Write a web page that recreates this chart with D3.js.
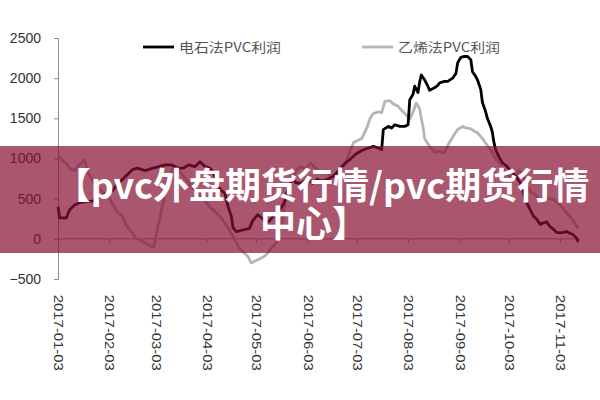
<!DOCTYPE html>
<html><head><meta charset="utf-8">
<script src="https://cdn.jsdelivr.net/npm/d3@7"></script>
<style>
html,body{margin:0;padding:0;background:#fff;}
svg{display:block;}
</style></head>
<body><svg id="c" width="600" height="400"></svg>
<script>
// ---- data ----
const seriesNames = ["电石法PVC利润", "乙烯法PVC利润"];
const tickLabels = ["2017-01-03","2017-02-03","2017-03-03","2017-04-03","2017-05-03","2017-06-03","2017-07-03","2017-08-03","2017-09-03","2017-10-03","2017-11-03"];
const yTicks = [-500, 0, 500, 1000, 1500, 2000, 2500];

const carbideDates = ["01-03","01-04","01-08","01-10","01-13","01-16","01-21","01-24","01-27","01-31","02-05","02-08","02-13","02-17","02-20","02-25","02-28","03-05","03-09","03-13","03-17","03-20","03-23","03-27","03-30","04-02","04-05","04-07","04-10","04-12","04-14","04-16","04-18","04-19","04-21","04-25","04-29","05-01","05-04","05-07","05-09","05-11","05-14","05-17","05-20","05-22","05-25","05-27","05-30","06-02","06-05","06-06","06-09","06-12","06-16","06-19","06-22","06-24","06-27","06-29","07-02","07-06","07-10","07-13","07-16","07-18","07-19","07-22","07-24","07-26","07-29","08-01","08-03","08-04","08-06","08-07","08-09","08-10","08-11","08-13","08-15","08-16","08-19","08-21","08-22","08-25","08-27","08-30","09-01","09-02","09-04","09-06","09-08","09-10","09-11","09-13","09-14","09-16","09-17","09-19","09-20","09-22","09-23","09-24","09-25","09-27","09-29","10-02","10-04","10-07","10-10","10-12","10-14","10-16","10-18","10-20","10-22","10-24","10-26","10-28","10-30","11-01","11-03","11-05","11-07","11-09","11-11","11-13","11-14"];
const carbideValues = [400,260,260,360,420,450,465,470,510,550,600,680,780,860,880,850,870,900,920,920,880,880,920,900,960,900,880,830,650,600,570,400,280,140,90,110,130,230,300,250,200,220,300,350,450,600,760,700,690,730,720,690,740,720,750,780,850,900,960,990,1050,1100,1130,1150,1130,1110,1360,1400,1380,1420,1400,1400,1420,1730,1800,1900,1820,1950,2040,1980,1900,1850,1880,1910,1940,1960,1960,2000,2060,2190,2260,2270,2270,2230,2080,2020,1980,1860,1700,1580,1500,1400,1330,1200,1110,1020,950,900,850,780,700,560,440,360,280,240,180,200,210,150,120,80,75,80,90,70,50,10,-40];

const ethyleneDates = ["01-03","01-05","01-08","01-10","01-13","01-15","01-18","01-19","01-21","01-24","01-26","01-29","01-31","02-03","02-05","02-08","02-11","02-13","02-16","02-19","02-22","02-25","02-28","03-02","03-04","03-06","03-08","03-09","03-11","03-13","03-15","03-18","03-20","03-23","03-25","03-28","03-30","04-02","04-05","04-08","04-11","04-14","04-17","04-20","04-23","04-26","04-28","04-30","05-02","05-04","05-07","05-09","05-11","05-13","05-15","05-17","05-19","05-20","05-22","05-25","05-27","05-30","06-02","06-05","06-08","06-11","06-14","06-17","06-20","06-23","06-26","06-29","07-01","07-04","07-06","07-09","07-11","07-13","07-16","07-18","07-20","07-23","07-25","07-28","07-30","08-02","08-04","08-06","08-08","08-10","08-11","08-12","08-13","08-15","08-17","08-19","08-22","08-25","08-28","08-31","09-02","09-05","09-07","09-10","09-12","09-14","09-17","09-19","09-22","09-25","09-28","10-01","10-04","10-07","10-09","10-11","10-14","10-16","10-19","10-22","10-24","10-27","10-30","11-02","11-05","11-07","11-10","11-12","11-14"];
const ethyleneValues = [1040,990,940,880,850,900,960,990,830,720,650,610,560,520,430,330,280,180,100,10,-20,-50,-90,-100,100,300,480,650,780,860,880,830,780,700,640,590,540,470,400,340,280,200,100,-10,-120,-180,-220,-300,-280,-260,-230,-200,-150,-100,-50,100,250,400,600,750,850,900,870,940,880,830,850,780,800,870,950,1100,1200,1230,1250,1380,1500,1560,1580,1570,1710,1720,1680,1650,1600,1540,1490,1580,1690,1620,1500,1400,1250,1180,1130,1080,1090,1070,1200,1300,1360,1400,1380,1370,1340,1320,1250,1190,1110,1000,920,820,770,740,850,820,660,590,550,470,520,500,490,440,380,320,260,190,130];

const bannerLines = ["【pvc外盘期货行情/pvc期货行情", "中心】"];

// ---- chart ----
const svg = d3.select("#c");
const parse = d3.timeParse("%Y-%m-%d");
const x = d3.scaleTime().domain([parse("2017-01-03"), parse("2017-11-03")]).range([58, 560]);
const y = d3.scaleLinear().domain([-500, 2500]).range([279, 38]);

const mk = (dates, vals) => dates.map((d, i) => ({ date: parse("2017-" + d), v: vals[i] }));
const carbide = mk(carbideDates, carbideValues);
const ethylene = mk(ethyleneDates, ethyleneValues);

// y axis
const yAxis = svg.append("g").attr("transform", "translate(58,0)")
  .call(d3.axisLeft(y).tickValues(yTicks).tickSize(4).tickPadding(13).tickFormat(d3.format("d")));
yAxis.select(".domain").attr("stroke", "#8c8c8c");
yAxis.selectAll(".tick line").attr("stroke", "#8c8c8c");
yAxis.selectAll("text").attr("font-family", "Liberation Sans, Arial, sans-serif").attr("font-size", 14).attr("fill", "#333");

// x axis at zero
const xAxis = svg.append("g").attr("transform", `translate(0,${y(0)})`)
  .call(d3.axisBottom(x).tickValues(tickLabels.map(parse)).tickSize(4).tickSizeOuter(0).tickFormat(d3.timeFormat("%Y-%m-%d")));
xAxis.select(".domain").attr("stroke", "#8c8c8c").attr("d", `M58,0H580`);
xAxis.selectAll(".tick line").attr("stroke", "#8c8c8c");
xAxis.selectAll("text")
  .attr("font-family", "Liberation Sans, Arial, sans-serif").attr("font-size", 12).attr("fill", "#333")
  .attr("text-anchor", "start").attr("transform", "rotate(90)")
  .attr("x", 56).attr("y", 0).attr("dy", "0.35em")
  .attr("textLength", 76).attr("lengthAdjust", "spacingAndGlyphs");

// lines
const line = d3.line().x(d => x(d.date)).y(d => y(d.v));
svg.append("path").datum(ethylene).attr("d", line).attr("fill", "none")
  .attr("stroke", "#b5b5b5").attr("stroke-width", 2.8).attr("stroke-linejoin", "round");
svg.append("path").datum(carbide).attr("d", line).attr("fill", "none")
  .attr("stroke", "#000").attr("stroke-width", 2.8).attr("stroke-linejoin", "round");

// legend
const legend = [{ x: 143, color: "#000" }, { x: 362, color: "#b5b5b5" }];
legend.forEach((l, i) => {
  svg.append("line").attr("x1", l.x).attr("x2", l.x + 31).attr("y1", 47).attr("y2", 47)
    .attr("stroke", l.color).attr("stroke-width", 2.8);
  svg.append("text").attr("x", l.x + 36).attr("y", 47).attr("dy", "0.35em")
    .attr("font-family", "Noto Sans CJK SC, sans-serif").attr("font-size", 13).attr("fill", "#555")
    .attr("textLength", 102).attr("lengthAdjust", "spacingAndGlyphs")
    .text(seriesNames[i]);
});

// banner overlay
svg.append("rect").attr("x", 0).attr("y", 146).attr("width", 600).attr("height", 107)
  .attr("fill", "rgb(134,14,49)").attr("fill-opacity", 0.7);
bannerLines.forEach((t, i) => {
  svg.append("text").attr("x", i === 0 ? 322 : 314).attr("y", i === 0 ? 199 : 237)
    .attr("text-anchor", "middle")
    .attr("font-family", "Noto Sans CJK SC, sans-serif").attr("font-weight", 700)
    .attr("font-size", 36).attr("fill", "#fff").text(t);
});
</script></body></html>
